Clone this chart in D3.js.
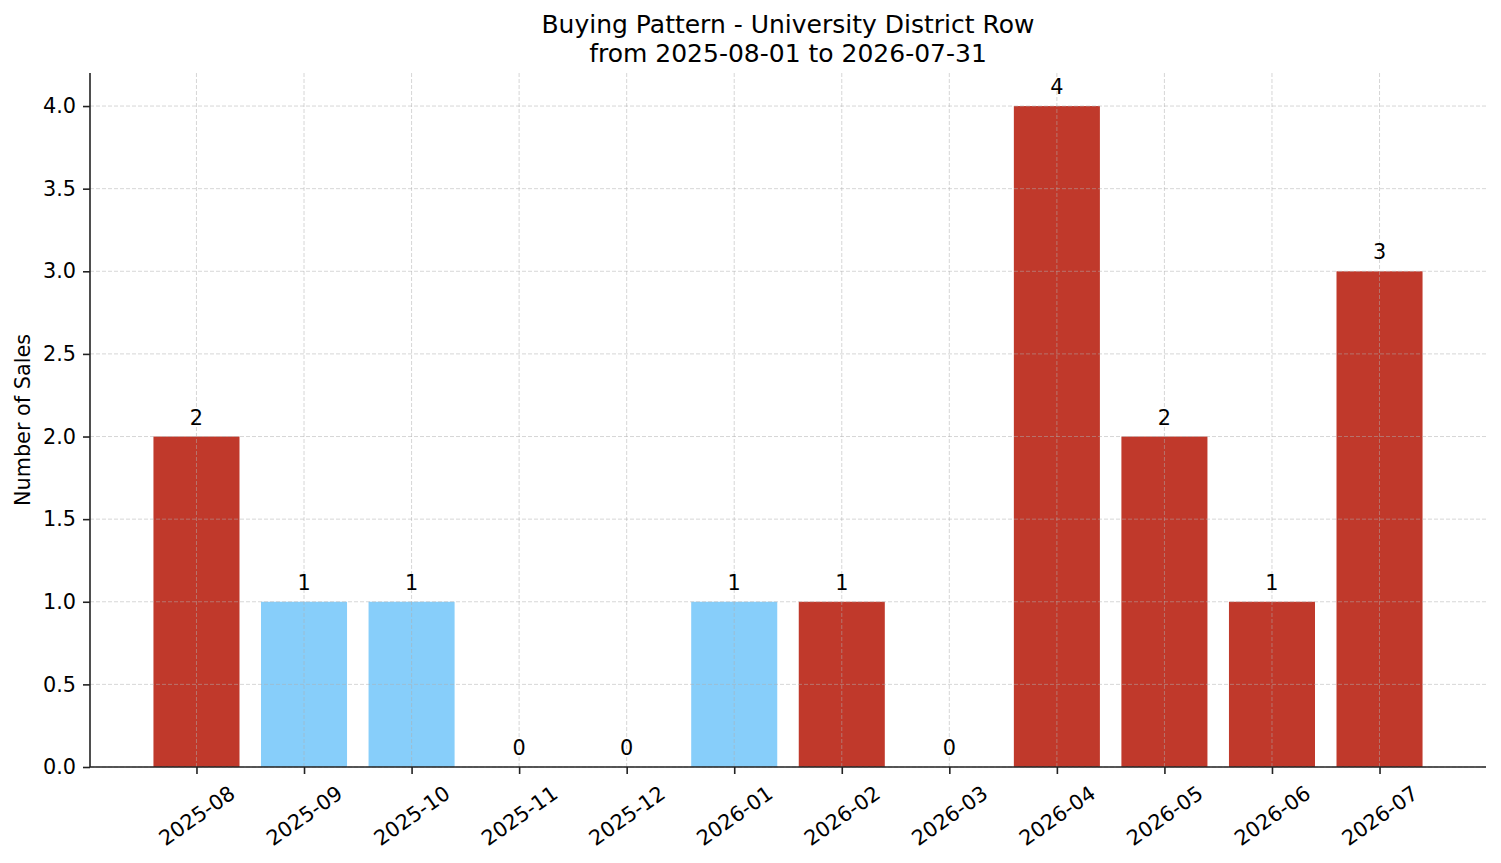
<!DOCTYPE html>
<html>
<head>
<meta charset="utf-8">
<script src="https://cdn.jsdelivr.net/npm/d3@7"></script>
<style>
  body { margin: 0; background: #fff; }
  text { font-family: "DejaVu Sans", sans-serif; fill: #000; }
</style>
</head>
<body>
<div id="chart"></div>
<script>
// data
const months = ["2025-08", "2025-09", "2025-10", "2025-11", "2025-12", "2026-01",
                "2026-02", "2026-03", "2026-04", "2026-05", "2026-06", "2026-07"];
const sales = [2, 1, 1, 0, 0, 1, 1, 0, 4, 2, 1, 3];
const highlight = [true, false, false, false, false, false, true, false, true, true, true, true];
const yTicks = [0, 0.5, 1, 1.5, 2, 2.5, 3, 3.5, 4];

const W = 1501, H = 863;
const margin = { top: 73, right: 15, bottom: 96, left: 90 };
const width = W - margin.left - margin.right;
const height = H - margin.top - margin.bottom;

const svg = d3.select("#chart").append("svg")
  .attr("width", W).attr("height", H);

const g = svg.append("g")
  .attr("transform", "translate(" + margin.left + "," + margin.top + ")");

// matplotlib-like category axis: bars 0.8 wide, 5% margins
const x = d3.scaleLinear()
  .domain([-0.99, months.length - 1 + 0.99])
  .range([0, width]);
const step = x(1) - x(0);

const y = d3.scaleLinear().domain([0, 4.2]).range([height, 0]);

// bars
g.selectAll(".bar")
  .data(sales)
  .enter()
  .append("rect")
  .attr("class", "bar")
  .attr("x", (d, i) => x(i - 0.4))
  .attr("width", step * 0.8)
  .attr("y", d => y(d))
  .attr("height", d => height - y(d))
  .style("fill", (d, i) => highlight[i] ? "#c0392b" : "#87cefa");

// grid on top of bars
const grid = g.append("g").attr("class", "grid");
grid.selectAll(".hg")
  .data(yTicks)
  .enter()
  .append("line")
  .attr("x1", 0).attr("x2", width)
  .attr("y1", d => y(d)).attr("y2", d => y(d))
  .style("stroke", "#b0b0b0").style("stroke-opacity", 0.5)
  .style("stroke-width", 1).style("stroke-dasharray", "4,2");
grid.selectAll(".vg")
  .data(months)
  .enter()
  .append("line")
  .attr("x1", (d, i) => x(i)).attr("x2", (d, i) => x(i))
  .attr("y1", 0).attr("y2", height)
  .style("stroke", "#b0b0b0").style("stroke-opacity", 0.5)
  .style("stroke-width", 1).style("stroke-dasharray", "4,2");

// value labels
g.selectAll(".val")
  .data(sales)
  .enter()
  .append("text")
  .attr("x", (d, i) => x(i))
  .attr("y", d => y(d) - 12)
  .attr("text-anchor", "middle")
  .style("font-size", "20.8px")
  .text(d => d);

// y axis
const yAxis = g.append("g")
  .call(d3.axisLeft(y).tickValues(yTicks).tickFormat(d3.format(".1f"))
    .tickSize(7).tickPadding(7));
yAxis.select(".domain").style("stroke", "#222").style("stroke-width", 1.6)
  .attr("d", "M0," + height + "V0");
yAxis.selectAll(".tick line").style("stroke", "#222").style("stroke-width", 1.6);
yAxis.selectAll("text").style("font-size", "20.8px").style("font-family", "DejaVu Sans").style("fill", "#000");

// x axis
const xAxis = g.append("g")
  .attr("transform", "translate(0," + height + ")")
  .call(d3.axisBottom(x).tickValues(d3.range(months.length))
    .tickFormat(i => months[i]).tickSize(7).tickPadding(7));
xAxis.select(".domain").style("stroke", "#222").style("stroke-width", 1.6)
  .attr("d", "M0,0H" + width);
xAxis.selectAll(".tick line").style("stroke", "#222").style("stroke-width", 1.6);

// rotate tick labels 35deg, centre the rotated box under the tick
const ang = 35 * Math.PI / 180;
xAxis.selectAll(".tick text")
  .style("font-size", "20.8px").style("font-family", "DejaVu Sans").style("fill", "#000")
  .attr("text-anchor", "middle")
  .attr("dy", null)
  .attr("dominant-baseline", "central")
  .each(function() {
    const t = d3.select(this);
    const w = this.getComputedTextLength();
    const h = 20.8 * 1.17;
    const boxH = w * Math.sin(ang) + h * Math.cos(ang);
    const cy = 14 + boxH / 2;
    t.attr("y", cy).attr("x", 0)
      .attr("transform", "rotate(-35,0," + cy + ")");
  });

// y label
svg.append("text")
  .attr("transform", "translate(30," + (margin.top + height / 2) + ") rotate(-90)")
  .attr("text-anchor", "middle")
  .style("font-size", "20.8px")
  .text("Number of Sales");

// title
const cx = margin.left + width / 2;
svg.append("text").attr("x", cx).attr("y", 33)
  .attr("text-anchor", "middle").style("font-size", "25px")
  .text("Buying Pattern - University District Row");
svg.append("text").attr("x", cx).attr("y", 62)
  .attr("text-anchor", "middle").style("font-size", "25px")
  .text("from 2025-08-01 to 2026-07-31");
</script>
</body>
</html>
